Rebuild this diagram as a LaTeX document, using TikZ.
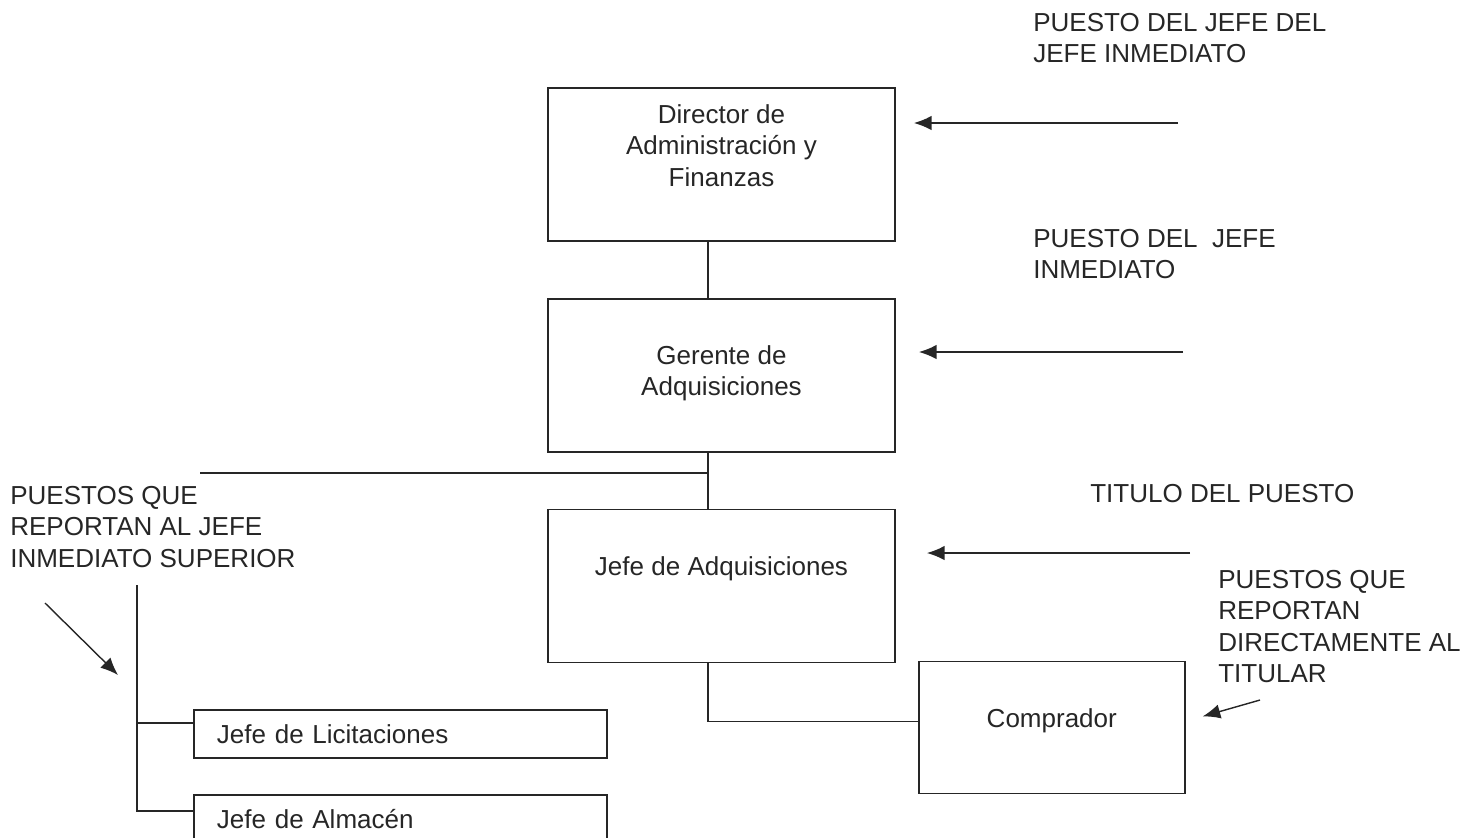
\documentclass[tikz,border=0pt]{standalone}
\usepackage{fontspec}
\setmainfont{Liberation Sans}
\usetikzlibrary{arrows.meta,positioning,calc}
\definecolor{tinta}{HTML}{262626}
\newcommand{\letra}{\fontsize{18.5pt}{22.4pt}\selectfont}

\begin{document}
\begin{tikzpicture}[
  x=0.025cm, y=-0.025cm,
  caja/.style={
    draw=tinta, line width=1.2pt, text=tinta, font=\letra,
    minimum width=8.675cm, minimum height=3.825cm,
    align=center, inner sep=0pt
  },
  fila/.style={
    draw=tinta, line width=1.2pt, text=tinta, font=\letra,
    text width=9.175cm, align=left, inner xsep=0.575cm, inner ysep=0pt,
    minimum height=1.2cm
  },
  nota/.style={anchor=north west, align=left, inner sep=0pt, font=\letra, text=tinta},
  linea/.style={draw=tinta, line width=1.2pt},
  flecha/.style={-{Latex[length=4.4mm,width=3.6mm]}, draw=tinta, line width=1pt}
]
  \useasboundingbox (0,0) rectangle (1483,837);
  % cajas del organigrama
  \node[caja, text depth=0.95cm] (dir) at (721.5,164.5) {Director de\\Administración y\\Finanzas};
  \node[caja, below=1.4cm of dir, text depth=0.225cm] (ger) {Gerente de\\Adquisiciones};
  \node[caja, below=1.4cm of ger, text depth=0.975cm] (jefe) {Jefe de Adquisiciones};
  \node[caja, minimum width=6.65cm, minimum height=3.3cm, text depth=0.45cm,
        below right=-0.07cm and 0.55cm of jefe] (comp) {Comprador};
  \node[fila] (lic) at (400.5,734) {Jefe de Licitaciones};
  \node[fila, below=0.875cm of lic] (alm) {Jefe de Almacén};
  % notas
  \node[nota] (t1) at (1033,13)  {PUESTO DEL JEFE DEL\\JEFE INMEDIATO};
  \node[nota] (t2) at (1033,229) {PUESTO DEL\ \ JEFE\\INMEDIATO};
  \node[nota] (t3) at (1090,484) {TITULO DEL PUESTO};
  \node[nota] (t4) at (1218,570) {PUESTOS QUE\\REPORTAN\\DIRECTAMENTE AL\\TITULAR};
  \node[nota] (t5) at (10,486)   {PUESTOS QUE\\REPORTAN AL JEFE\\INMEDIATO SUPERIOR};
  % lineas de mando
  \coordinate (eje) at (708,0);
  \draw[linea] (dir.south -| eje) -- (ger.north -| eje);
  \draw[linea] (ger.south -| eje) -- (jefe.north -| eje);
  \coordinate (hiz) at (200,473);
  \draw[linea] (hiz) -- (hiz -| eje);
  \draw[linea] (jefe.south -| eje) |- ([yshift=1.5mm]comp.west);
  \coordinate (rtop) at (137,585);
  \draw[linea] (rtop) |- ([yshift=2.75mm]lic.west);
  \draw[linea] (rtop) |- ([yshift=2mm]alm.west);
  % flechas
  \coordinate (f1) at (1178,123);
  \coordinate (f2) at (1183,352);
  \coordinate (f3) at (1190,553);
  \coordinate (f4) at (45,603);
  \coordinate (f4b) at (118,675);
  \coordinate (f5) at (1260,700);
  \draw[flecha] (f1) -- ([xshift=4.5mm]f1 -| dir.east);
  \draw[flecha] (f2) -- ([xshift=5.75mm]f2 -| ger.east);
  \draw[flecha] (f3) -- ([xshift=7.75mm]f3 -| jefe.east);
  \draw[flecha] (f4) -- (f4b);
  \draw[flecha] (f5) -- ([xshift=4.25mm,yshift=2.75mm]comp.east);
\end{tikzpicture}
\end{document}
